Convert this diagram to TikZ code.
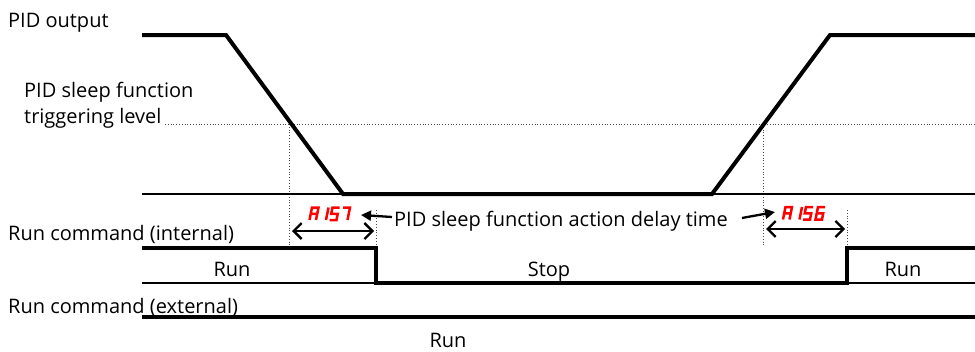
\documentclass[tikz,border=0pt]{standalone}
\usepackage{fontspec}
\setmainfont{Open Sans}
\usetikzlibrary{arrows.meta}
\tikzset{
  sig/.style={line width=4pt, line join=miter},
  base/.style={line width=1.3pt},
  guide/.style={line width=0.8pt, dotted, black!70},
  dbl/.style={line width=2.3pt, {Straight Barb[length=8pt,width=16pt,line width=2.3pt]}-{Straight Barb[length=8pt,width=16pt,line width=2.3pt]}},
  ptr/.style={line width=2.3pt, -{Triangle[length=10pt,width=10pt]}},
  lbl/.style={inner sep=0pt, font=\fontsize{20}{22}\selectfont},
  seg/.style={red, line width=2.5pt, line cap=butt, line join=miter},
}
% seven-segment glyphs, origin at bottom left, width 6.5, height 12.5
\newcommand\glyphA{(0,0)--(0,-12.5)--(6.5,-12.5)--(6.5,0) (0,-6.25)--(6.5,-6.25)}
\newcommand\glyphOne{(6.5,-12.5)--(6.5,0)}
\newcommand\glyphFive{(7,-12.5)--(0,-12.5)--(0,-6.25)--(6.5,-6.25)--(6.5,0)--(-0.5,0)}
\newcommand\glyphSix{(7,-12.5)--(0,-12.5)--(0,0)--(6.5,0)--(6.5,-6.25)--(0,-6.25)}
\newcommand\glyphSeven{(-0.5,-12.5)--(6.5,-12.5)--(6.5,0)}
\newcommand\segdigit[3]{%
  \begin{scope}[shift={(#1,#2)}, xslant=0.2]
    \draw[seg] #3;
  \end{scope}}
\begin{document}
\begin{tikzpicture}[x=1pt,y=-1pt]
\useasboundingbox (0,0) rectangle (975,351);
% labels
\node[lbl, anchor=base west] (pidout) at (8,27) {PID output};
\node[lbl, anchor=base west] (sl1) at (24,97) {PID sleep function};
\node[lbl, anchor=base west] (sl2) at (24,123) {triggering level};
\node[lbl, anchor=base west] (rci) at (8,240) {Run command (internal)};
\node[lbl, anchor=base west] (rce) at (8,313) {Run command (external)};
\node[lbl, anchor=base] (run1) at (232,276) {Run};
\node[lbl, anchor=base] (stop) at (549,276) {Stop};
\node[lbl, anchor=base] (run2) at (903,276) {Run};
\node[lbl, anchor=base] (run3) at (448,347) {Run};
\node[lbl, anchor=base west] (delay) at (394,226) {PID sleep function action delay time};
% guides
\draw[guide] (165,124) -- (975,124);
\draw[guide] (289,124) -- (289,245);
\draw[guide] (376,210) -- (376,247);
\draw[guide] (763,124) -- (763,245);
\draw[guide] (847,210) -- (847,247);
% baselines
\draw[base] (142,194) -- (975,194);
\draw[base] (142,283) -- (376,283);
\draw[base] (847,283) -- (975,283);
% PID output
\draw[sig] (142,35) -- (226,35) -- (343,194) -- (712,194) -- (830,35) -- (975,35);
% run command internal
\draw[sig] (142,248) -- (376,248) -- (376,283) -- (847,283) -- (847,248) -- (975,248);
% run command external
\draw[sig] (142,317) -- (975,317);
% delay arrows
\draw[dbl] (292,231) -- (374,231);
\draw[dbl] (766,229) -- (845,229);
\coordinate (p1) at (392,217);
\coordinate (p2) at (742,218);
\draw[ptr] (p1) -- (361,215);
\draw[ptr] (p2) -- (775,212);
% seven segment codes
\segdigit{309.5}{220}{\glyphA}
\segdigit{319.5}{220}{\glyphOne}
\segdigit{330}{220}{\glyphFive}
\segdigit{341}{220}{\glyphSeven}
\segdigit{783}{219.5}{\glyphA}
\segdigit{793}{219.5}{\glyphOne}
\segdigit{803.5}{219.5}{\glyphFive}
\segdigit{815.5}{219.5}{\glyphSix}
\end{tikzpicture}
\end{document}
